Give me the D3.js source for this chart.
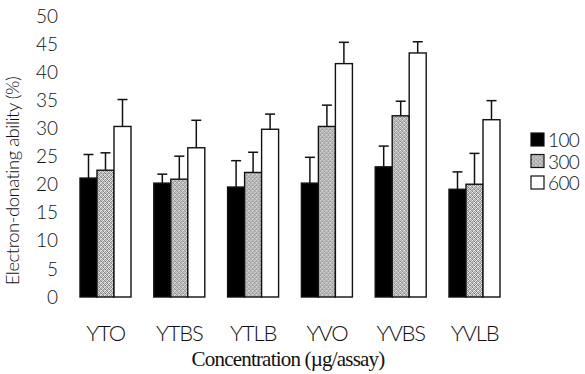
<!DOCTYPE html>
<html>
<head>
<meta charset="utf-8">
<script src="https://cdn.jsdelivr.net/npm/d3@7"></script>
<style>
  body { margin: 0; background: #fff; }
  text { font-family: Lato, "Liberation Sans", Arial, sans-serif; font-weight: 300; fill: #111; }
</style>
</head>
<body>
<div id="chart"></div>
<script>
var samples = ["YTO", "YTBS", "YTLB", "YVO", "YVBS", "YVLB"];
var doses = ["100", "300", "600"];
var mean100 = [21.2, 20.3, 19.6, 20.3, 23.2, 19.2];
var mean300 = [22.6, 21.0, 22.2, 30.4, 32.3, 20.1];
var mean600 = [30.4, 26.6, 29.9, 41.6, 43.5, 31.6];
var sd100 = [4.2, 1.6, 4.7, 4.6, 3.7, 3.1];
var sd300 = [3.1, 4.1, 3.6, 3.8, 2.6, 5.5];
var sd600 = [4.8, 4.9, 2.7, 3.8, 2.0, 3.4];
var yTicks = [0, 5, 10, 15, 20, 25, 30, 35, 40, 45, 50];

var W = 585, H = 374;
var means = [mean100, mean300, mean600];
var sds = [sd100, sd300, sd600];

var data = [];
samples.forEach(function(s, i){
  doses.forEach(function(d, j){
    data.push({sample: s, dose: d, mean: means[j][i], sd: sds[j][i]});
  });
});

var svg = d3.select("#chart").append("svg")
  .attr("width", W).attr("height", H);

// speckled grey fill for the 300 bars
var greys = ["#8a8a8a","#d0d0d0","#a4a4a4","#eeeeee","#bdbdbd","#7a7a7a","#dcdcdc","#9c9c9c",
             "#c6c6c6","#f2f2f2","#909090","#b2b2b2","#e4e4e4","#a0a0a0","#cfcfcf","#858585"];
var pat = svg.append("defs").append("pattern")
  .attr("id", "speck").attr("patternUnits", "userSpaceOnUse")
  .attr("width", 4).attr("height", 4);
greys.forEach(function(c, k){
  pat.append("rect").attr("x", k % 4).attr("y", Math.floor(k / 4))
    .attr("width", 1).attr("height", 1).attr("fill", c);
});

var fills = {"100": "#000", "300": "url(#speck)", "600": "#fff"};

var y = d3.scaleLinear().domain([0, 50]).range([297, 16.5]);
var x = d3.scaleBand().domain(samples).range([68.6, 511.4]).paddingInner(0).paddingOuter(0);
var xs = d3.scaleBand().domain(doses).range([0, 51]);

// y tick labels (no axis line in the original)
var yAxis = d3.axisLeft(y).tickValues(yTicks).tickSize(0).tickPadding(0);
var gy = svg.append("g").attr("transform", "translate(58,0)").call(yAxis);
gy.select(".domain").remove();
gy.selectAll("text").style("font-size", "19px").attr("fill", "#111")
  .style("font-family", "Lato, 'Liberation Sans', Arial, sans-serif")
  .style("font-weight", 300);

var groups = svg.selectAll(".grp")
  .data(samples)
  .join("g")
  .attr("class", "grp")
  .attr("transform", function(d){ return "translate(" + (x(d) + x.bandwidth() / 2 - 25.5) + ",0)"; });

var bars = groups.selectAll(".bar")
  .data(function(s){ return data.filter(function(d){ return d.sample == s; }); })
  .join("g").attr("class", "bar");

// error bars (upper only)
bars.append("line")
  .attr("x1", function(d){ return xs(d.dose) + xs.bandwidth() / 2; })
  .attr("x2", function(d){ return xs(d.dose) + xs.bandwidth() / 2; })
  .attr("y1", function(d){ return y(d.mean); })
  .attr("y2", function(d){ return y(d.mean + d.sd); })
  .attr("stroke", "#111").attr("stroke-width", 1.5);
bars.append("line")
  .attr("x1", function(d){ return xs(d.dose) + xs.bandwidth() / 2 - 5; })
  .attr("x2", function(d){ return xs(d.dose) + xs.bandwidth() / 2 + 5; })
  .attr("y1", function(d){ return y(d.mean + d.sd); })
  .attr("y2", function(d){ return y(d.mean + d.sd); })
  .attr("stroke", "#111").attr("stroke-width", 1.5);

bars.append("rect")
  .attr("x", function(d){ return xs(d.dose); })
  .attr("width", xs.bandwidth())
  .attr("y", function(d){ return y(d.mean); })
  .attr("height", function(d){ return y(0) - y(d.mean); })
  .attr("fill", function(d){ return fills[d.dose]; })
  .attr("stroke", "#111").attr("stroke-width", 1.4);

// x labels
svg.selectAll(".xlab")
  .data(samples)
  .join("text")
  .attr("class", "xlab")
  .attr("x", function(d){ return x(d) + x.bandwidth() / 2; })
  .attr("y", 341)
  .attr("text-anchor", "middle")
  .style("font-size", "22px")
  .style("letter-spacing", "-1.2px")
  .text(function(d){ return d; });

// axis titles
svg.append("text")
  .attr("x", 288).attr("y", 366)
  .attr("text-anchor", "middle")
  .style("font-family", "'Liberation Serif', serif")
  .style("font-weight", 400)
  .style("font-size", "21px")
  .style("letter-spacing", "-0.8px")
  .text("Concentration (\u00b5g/assay)");

svg.append("text")
  .attr("transform", "translate(19,181) rotate(-90)")
  .attr("text-anchor", "middle")
  .style("font-size", "18.5px")
  .style("letter-spacing", "-0.5px")
  .text("Electron-donating ability (%)");

// legend
var leg = svg.selectAll(".leg")
  .data(doses)
  .join("g")
  .attr("class", "leg")
  .attr("transform", function(d, i){ return "translate(531," + (133 + i * 21.5) + ")"; });
leg.append("rect")
  .attr("width", 13).attr("height", 13)
  .attr("fill", function(d){ return fills[d]; })
  .attr("stroke", "#111").attr("stroke-width", 1.2);
leg.append("text")
  .attr("x", 17).attr("y", 14)
  .style("font-size", "19px")
  .style("letter-spacing", "-0.6px")
  .text(function(d){ return d; });
</script>
</body>
</html>
